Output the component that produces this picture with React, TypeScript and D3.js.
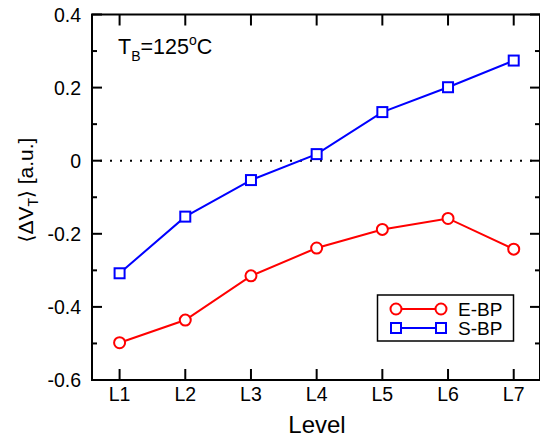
import React from 'react';
import * as d3 from 'd3';

// data
const levels = ['L1', 'L2', 'L3', 'L4', 'L5', 'L6', 'L7'];
const eBP = [-0.498, -0.436, -0.315, -0.239, -0.188, -0.158, -0.242];
const sBP = [-0.308, -0.153, -0.053, 0.018, 0.133, 0.201, 0.274];
const yMajor = [-0.6, -0.4, -0.2, 0, 0.2, 0.4];
const yMinor = [-0.5, -0.3, -0.1, 0.1, 0.3];

const W = 540;
const H = 441;
const left = 92;
const right = 540;
const top = 14.5;
const bottom = 380;
const font = "'Liberation Sans', Arial, Helvetica, sans-serif";

export default function App() {
  const x = d3.scaleLinear().domain([0.58, 7.4]).range([left, right]);
  const y = d3.scaleLinear().domain([-0.6, 0.4]).range([bottom, top]);

  const line = d3.line<number>()
    .x((d, i) => x(i + 1))
    .y(d => y(d));

  const yFmt = (v: number) => (v === 0 ? '0' : d3.format('.1f')(v).replace('−', '-'));

  return (
    <svg width={W} height={H} style={{ position: 'absolute', left: 0, top: 0 }} fontFamily={font}>
      <rect x={0} y={0} width={W} height={H} fill="white" />

      {/* zero reference line */}
      <line x1={left} x2={right} y1={y(0)} y2={y(0)} stroke="black" strokeWidth={2}
        strokeDasharray="2 8" strokeDashoffset={-8} />

      {/* series */}
      <path d={line(eBP) || ''} fill="none" stroke="#ff0000" strokeWidth={2} />
      <path d={line(sBP) || ''} fill="none" stroke="#0000ff" strokeWidth={2} />
      {eBP.map((v, i) => (
        <circle key={'e' + i} cx={x(i + 1)} cy={y(v)} r={5.5} fill="white" stroke="#ff0000" strokeWidth={2} />
      ))}
      {sBP.map((v, i) => (
        <rect key={'s' + i} x={x(i + 1) - 5} y={y(v) - 5} width={10} height={10} fill="white" stroke="#0000ff" strokeWidth={2} />
      ))}

      {/* frame */}
      <rect x={left} y={top} width={right - left} height={bottom - top} fill="none" stroke="black" strokeWidth={2} />

      {/* x ticks */}
      {levels.map((l, i) => (
        <g key={l}>
          <line x1={x(i + 1)} x2={x(i + 1)} y1={bottom} y2={bottom - 11} stroke="black" strokeWidth={2} />
          <line x1={x(i + 1)} x2={x(i + 1)} y1={top} y2={top + 11} stroke="black" strokeWidth={2} />
          <text x={x(i + 1)} y={401} textAnchor="middle" fontSize={19.5}>{l}</text>
        </g>
      ))}

      {/* y ticks */}
      {yMajor.map(v => (
        <g key={'M' + v}>
          <line x1={left} x2={left + 10} y1={y(v)} y2={y(v)} stroke="black" strokeWidth={2} />
          <line x1={right} x2={right - 10} y1={y(v)} y2={y(v)} stroke="black" strokeWidth={2} />
          <text x={81} y={y(v) + 7} textAnchor="end" fontSize={19.5}>{yFmt(v)}</text>
        </g>
      ))}
      {yMinor.map(v => (
        <g key={'m' + v}>
          <line x1={left} x2={left + 5} y1={y(v)} y2={y(v)} stroke="black" strokeWidth={2} />
          <line x1={right} x2={right - 5} y1={y(v)} y2={y(v)} stroke="black" strokeWidth={2} />
        </g>
      ))}

      {/* axis titles */}
      <text x={317} y={433} textAnchor="middle" fontSize={24}>Level</text>
      <text transform="translate(33,190) rotate(-90)" textAnchor="middle" fontSize={21}>
        <tspan fontFamily="'DejaVu Sans', sans-serif" fontSize={20}>⟨</tspan>
        <tspan>ΔV</tspan>
        <tspan fontSize={14} dy={5}>T</tspan>
        <tspan fontFamily="'DejaVu Sans', sans-serif" fontSize={20} dy={-5}>⟩</tspan>
        <tspan> [a.u.]</tspan>
      </text>

      {/* annotation */}
      <text x={118} y={54} fontSize={21.5}>
        <tspan>T</tspan>
        <tspan fontSize={14} dy={7}>B</tspan>
        <tspan dy={-7}>=125</tspan>
        <tspan fontSize={14} dy={-9}>o</tspan>
        <tspan dy={9}>C</tspan>
      </text>

      {/* legend */}
      <rect x={377.5} y={295} width={136} height={46} fill="white" stroke="black" strokeWidth={1.5} />
      <line x1={396} x2={441} y1={309} y2={309} stroke="#ff0000" strokeWidth={2} />
      <circle cx={396} cy={309} r={5.5} fill="white" stroke="#ff0000" strokeWidth={2} />
      <circle cx={441} cy={309} r={5.5} fill="white" stroke="#ff0000" strokeWidth={2} />
      <text x={458} y={316} fontSize={19}>E-BP</text>
      <line x1={396} x2={441} y1={328} y2={328} stroke="#0000ff" strokeWidth={2} />
      <rect x={391} y={323} width={10} height={10} fill="white" stroke="#0000ff" strokeWidth={2} />
      <rect x={436} y={323} width={10} height={10} fill="white" stroke="#0000ff" strokeWidth={2} />
      <text x={458} y={335} fontSize={19}>S-BP</text>
    </svg>
  );
}
